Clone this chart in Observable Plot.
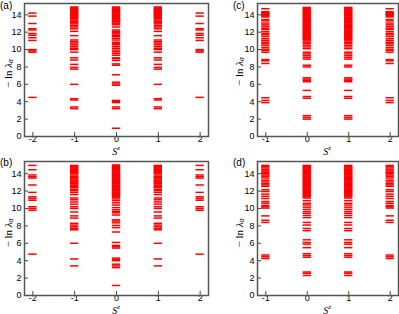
<!DOCTYPE html>
<html><head><meta charset="utf-8">
<script src="https://cdn.jsdelivr.net/npm/d3@7"></script>
<script src="https://cdn.jsdelivr.net/npm/@observablehq/plot@0.6"></script>
<style>
body{margin:0;background:#fff;}
#root{position:relative;width:399px;height:314px;overflow:hidden;}
.p{position:absolute;}
#ov{position:absolute;left:0;top:0;pointer-events:none;}
</style></head><body><div id="root"></div>
<script>
// ---- tick labels ----
const xTicksAB = [-2, -1, 0, 1, 2];
const xTicksCD = [-1, 0, 1, 2];
const yTicks = [0, 2, 4, 6, 8, 10, 12, 14];

// ---- entanglement levels (−ln λ) per S^z sector ----
// panel (a): S^z = ±2, ±1, 0
const aS2 = [4.5, 9.7, 9.85, 10.0, 11.05, 11.35, 11.65, 11.85, 12.25, 12.4, 13.0, 13.85, 14.2];
const aS1 = [3.2, 3.4, 4.2, 4.35, 6.0, 7.75, 7.95, 8.3, 8.8, 9.05, 9.7, 10.0, 10.15, 10.35, 10.55, 10.75, 10.9, 11.1, 11.6, 12.1, 12.4, 12.6, 12.75, 12.95, 13.1, 13.25, 13.4, 13.55, 13.7, 13.8, 13.9, 14.0, 14.1, 14.2, 14.3, 14.4, 14.5, 14.6, 14.7, 14.8, 14.9];
const aS0 = [0.95, 3.2, 3.4, 3.9, 4.05, 4.15, 5.9, 6.05, 6.25, 7.1, 8.2, 8.35, 8.75, 8.95, 9.05, 9.35, 9.55, 9.75, 9.95, 10.15, 10.35, 10.55, 10.7, 10.85, 11.1, 11.3, 11.5, 11.65, 11.8, 11.95, 12.1, 12.25, 12.6, 12.85, 12.95, 13.05, 13.2, 13.3, 13.4, 13.5, 13.6, 13.7, 13.8, 13.9, 14.0, 14.1, 14.2, 14.3, 14.4, 14.5, 14.6, 14.7, 14.8, 14.9];
// panel (b)
const bS2 = [4.75, 9.8, 10.0, 10.2, 10.95, 11.15, 11.35, 11.85, 12.7, 13.5, 13.65, 13.85, 14.45, 14.95];
const bS1 = [3.4, 4.2, 6.0, 7.55, 7.7, 7.9, 8.1, 8.3, 8.9, 9.15, 9.6, 10.0, 10.2, 10.5, 10.75, 11.0, 11.2, 11.6, 11.85, 12.05, 12.2, 12.4, 12.5, 12.6, 12.7, 12.85, 12.95, 13.05, 13.15, 13.25, 13.4, 13.5, 13.6, 13.7, 13.85, 14.05, 14.15, 14.25, 14.35, 14.45, 14.55, 14.65, 14.75, 14.85, 14.95];
const bS0 = [1.15, 3.2, 3.4, 3.6, 4.0, 4.15, 4.3, 5.45, 5.6, 5.75, 6.1, 7.3, 7.8, 8.05, 8.35, 8.55, 8.7, 9.25, 9.5, 9.65, 9.85, 10.1, 10.4, 10.65, 10.9, 11.1, 11.3, 11.4, 11.5, 11.6, 11.7, 11.8, 11.9, 12.0, 12.1, 12.2, 12.3, 12.4, 12.5, 12.6, 12.7, 12.8, 12.9, 13.0, 13.1, 13.2, 13.3, 13.4, 13.5, 13.6, 13.7, 13.8, 13.9, 14.0, 14.1, 14.2, 14.3, 14.4, 14.5, 14.6, 14.7, 14.8, 14.9, 15.0];
// panel (c): S^z = -1 (= 2) and 0 (= 1)
const cSm1 = [3.9, 4.15, 4.45, 8.4, 8.7, 8.85, 9.7, 9.9, 10.05, 10.25, 10.5, 10.7, 10.85, 11.05, 11.25, 11.5, 11.7, 11.85, 12.05, 12.3, 12.45, 12.65, 12.85, 13.05, 13.3, 13.45, 13.75, 13.85, 13.95, 14.05, 14.15, 14.25, 14.35, 14.7];
const cS0 = [2.0, 2.2, 2.4, 4.4, 4.6, 5.3, 6.3, 6.45, 6.6, 6.75, 8.0, 8.2, 8.9, 9.1, 9.3, 9.5, 9.7, 10.1, 10.3, 10.5, 10.7, 10.85, 11.0, 11.15, 11.25, 11.35, 11.45, 11.55, 11.65, 11.75, 11.85, 11.95, 12.05, 12.15, 12.25, 12.35, 12.45, 12.55, 12.65, 12.75, 12.85, 12.95, 13.05, 13.15, 13.25, 13.35, 13.45, 13.55, 13.65, 13.75, 13.85, 13.95, 14.05, 14.15, 14.25, 14.35, 14.45, 14.55, 14.65, 14.75, 14.85];
// panel (d)
const dSm1 = [4.25, 4.45, 4.65, 8.4, 8.65, 9.15, 10.05, 10.2, 10.35, 10.6, 10.8, 11.15, 11.4, 11.65, 11.95, 12.15, 12.55, 12.7, 12.85, 13.05, 13.25, 13.5, 13.7, 13.85, 14.0, 14.15, 14.3, 14.45, 14.65, 14.8, 14.95];
const dS0 = [2.3, 2.55, 2.7, 4.4, 4.6, 4.8, 5.5, 5.9, 6.1, 6.4, 7.45, 7.7, 8.1, 8.4, 8.95, 9.2, 9.45, 9.65, 9.9, 10.15, 10.4, 10.6, 10.9, 11.2, 11.35, 11.45, 11.55, 11.65, 11.75, 11.85, 11.95, 12.05, 12.15, 12.25, 12.35, 12.45, 12.55, 12.65, 12.75, 12.85, 12.95, 13.05, 13.15, 13.25, 13.35, 13.45, 13.55, 13.65, 13.75, 13.85, 13.95, 14.05, 14.15, 14.25, 14.35, 14.45, 14.55, 14.65, 14.75, 14.85, 14.95];

const panels = [
  {id: "a", left: 0, top: 0, width: 212, height: 152, mt: 3, mb: 16, ml: 24, mr: 4, xd: [-2.2, 2.2], yd: [0, 15.3], xt: xTicksAB,
   cols: [[-2, aS2], [-1, aS1], [0, aS0], [1, aS1], [2, aS2]]},
  {id: "b", left: 0, top: 158, width: 212, height: 153, mt: 3, mb: 16, ml: 24, mr: 4, xd: [-2.2, 2.2], yd: [0, 15.4], xt: xTicksAB,
   cols: [[-2, bS2], [-1, bS1], [0, bS0], [1, bS1], [2, bS2]]},
  {id: "c", left: 233, top: 0, width: 166, height: 152, mt: 3, mb: 16, ml: 24, mr: 1, xd: [-1.2, 2.2], yd: [0, 15.3], xt: xTicksCD,
   cols: [[-1, cSm1], [0, cS0], [1, cS0], [2, cSm1]]},
  {id: "d", left: 233, top: 158, width: 166, height: 153, mt: 3, mb: 16, ml: 24, mr: 1, xd: [-1.2, 2.2], yd: [0, 15.4], xt: xTicksCD,
   cols: [[-1, dSm1], [0, dS0], [1, dS0], [2, dSm1]]}
];

const root = document.getElementById("root");
const half = 0.1;
for (const p of panels) {
  const rows = [];
  p.cols.forEach(([s, arr]) => arr.forEach(v => rows.push({s, v})));
  const fw = p.width - p.ml - p.mr, fh = p.height - p.mt - p.mb;
  const chart = Plot.plot({
    width: p.width, height: p.height,
    marginLeft: p.ml, marginRight: p.mr, marginTop: p.mt, marginBottom: p.mb,
    x: {domain: p.xd}, y: {domain: p.yd},
    style: {background: "transparent", fontFamily: "'Liberation Sans', Arial, sans-serif", fontSize: "9px", color: "#000", overflow: "visible"},
    marks: [
      Plot.ruleY(rows, {y: "v", x1: d => d.s - half, x2: d => d.s + half, stroke: "#ff0000", strokeWidth: 1.5}),
      Plot.tickX(p.xt, {x: d => d, insetTop: fh - 4, stroke: "#444", strokeWidth: 1}),
      Plot.tickY(yTicks, {y: d => d, insetRight: fw - 4, stroke: "#444", strokeWidth: 1}),
      Plot.axisX(p.xt, {tickSize: 0, tickPadding: 0, dy: -1, tickFormat: d => String(d), label: null, fontSize: 9}),
      Plot.axisY(yTicks, {tickSize: 0, tickPadding: 3, tickFormat: d => String(d), label: null, fontSize: 9}),
      Plot.frame({stroke: "#555", strokeWidth: 1.5})
    ]
  });
  const div = document.createElement("div");
  div.className = "p";
  div.style.left = p.left + "px";
  div.style.top = p.top + "px";
  div.appendChild(chart);
  root.appendChild(div);
}

// ---- overlay labels ----
const ov = d3.select(root).append("svg").attr("id", "ov").attr("width", 399).attr("height", 314);
const panelLabels = [["(a)", 0, 5.5], ["(b)", 0, 162.5], ["(c)", 233, 5.5], ["(d)", 233, 162.5]];
for (const [t, x, y] of panelLabels) {
  ov.append("text").attr("x", x).attr("y", y).attr("dominant-baseline", "central")
    .style("font-family", "'Liberation Sans', Arial, sans-serif").style("font-size", "10px").text(t);
}
const yLabels = [[8, 73.5], [8, 233], [238.5, 71.5], [239, 233]];
for (const [x, y] of yLabels) {
  const t = ov.append("text").attr("transform", `translate(${x},${y}) rotate(-90)`)
    .attr("text-anchor", "middle").attr("dominant-baseline", "central")
    .style("font-family", "'Liberation Serif', 'Times New Roman', serif").style("font-size", "11px");
  t.append("tspan").text("− ln ");
  t.append("tspan").style("font-style", "italic").text("λ");
  t.append("tspan").style("font-style", "italic").style("font-size", "7.5px").attr("dy", 2).text("α");
}
const xLabels = [[116, 150.5], [116, 309.5], [327, 150.5], [327, 309.5]];
for (const [x, y] of xLabels) {
  const t = ov.append("text").attr("x", x).attr("y", y)
    .attr("text-anchor", "middle").attr("dominant-baseline", "central")
    .style("font-family", "'Liberation Serif', 'Times New Roman', serif").style("font-size", "10px");
  t.append("tspan").style("font-style", "italic").text("S");
  t.append("tspan").style("font-style", "italic").style("font-size", "7px").attr("dy", -3).text("z");
}
</script>
</body></html>
